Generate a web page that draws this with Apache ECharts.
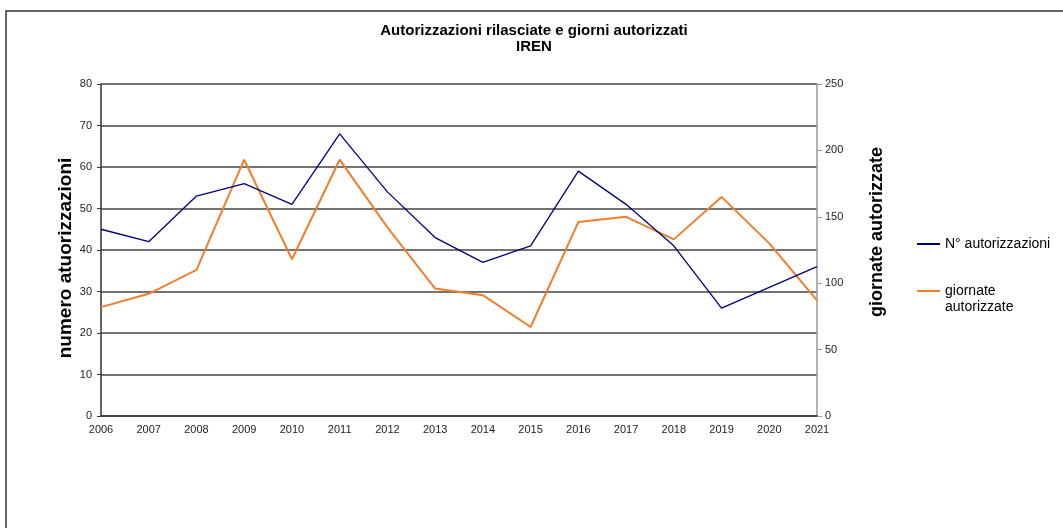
<!DOCTYPE html>
<html>
<head>
<meta charset="utf-8">
<style>
  html, body { margin: 0; padding: 0; background: #fff; }
  #chart { width: 1063px; height: 528px; }
</style>
<script src="https://cdn.jsdelivr.net/npm/echarts@6/dist/echarts.min.js"></script>
</head>
<body>
<div id="chart"></div>
<script>
// Years on the category axis
const years = ['2006','2007','2008','2009','2010','2011','2012','2013','2014','2015','2016','2017','2018','2019','2020','2021'];
// Number of authorizations granted (left axis)
const numAutorizzazioni = [45, 42, 53, 56, 51, 68, 54, 43, 37, 41, 59, 51, 41, 26, 31, 36];
// Authorized days (right axis)
const giornateAutorizzate = [82, 92, 110, 193, 118, 193, 142, 96, 91, 67, 146, 150, 133, 165, 130, 87];

const FONT = '"Liberation Sans", Arial, sans-serif';
const chart = echarts.init(document.getElementById('chart'), null, { renderer: 'canvas' });

chart.setOption({
  backgroundColor: '#fff',
  animation: false,
  textStyle: { fontFamily: FONT },
  title: {
    text: 'Autorizzazioni rilasciate e giorni autorizzati\nIREN',
    left: 529,
    textAlign: 'center',
    top: 18,
    textStyle: { fontFamily: FONT, fontSize: 15, fontWeight: 'bold', color: '#000', lineHeight: 16 }
  },
  graphic: [{
    type: 'rect',
    shape: { x: 6, y: 11, width: 1200, height: 700 },
    style: { fill: 'none', stroke: '#333', lineWidth: 1.5 },
    silent: true
  }],
  legend: {
    orient: 'vertical',
    left: 912,
    top: 231,
    itemGap: 15,
    itemWidth: 23,
    itemHeight: 2,
    itemTextGap: 4,
    icon: 'rect',
    textStyle: { fontFamily: FONT, fontSize: 14, color: '#000', lineHeight: 16 },
    // the second entry wraps on two lines, with its key aligned to the first line
    formatter: function (name) {
      return name === 'giornate autorizzate' ? '\ngiornate\nautorizzate' : name;
    },
    data: ['N° autorizzazioni', 'giornate autorizzate']
  },
  grid: { left: 101, right: 246, top: 84, bottom: 112 },
  xAxis: {
    type: 'category',
    data: years,
    boundaryGap: false,
    axisLine: { show: true, lineStyle: { color: '#333', width: 1.5 } },
    axisTick: { show: false },
    axisLabel: { color: '#222', fontSize: 11, margin: 8, interval: 0 },
    splitLine: { show: false }
  },
  yAxis: [{
    type: 'value',
    min: 0, max: 80, interval: 10,
    position: 'left',
    name: 'numero atuorizzazioni',
    nameLocation: 'middle',
    nameRotate: 90,
    nameGap: 26,
    nameMoveOverlap: false,
    nameTextStyle: { fontFamily: FONT, fontSize: 19, fontWeight: 'bold', color: '#000', padding: [0, 16, 0, 0] },
    axisLine: { show: true, lineStyle: { color: '#333', width: 1.5 } },
    axisTick: { show: true, inside: false, length: 4, lineStyle: { color: '#333' } },
    axisLabel: { color: '#222', fontSize: 11, margin: 9 },
    splitLine: { show: true, lineStyle: { color: '#444', width: 1.5 } }
  }, {
    type: 'value',
    min: 0, max: 250, interval: 50,
    position: 'right',
    name: 'giornate autorizzate',
    nameLocation: 'middle',
    nameRotate: 90,
    nameGap: 51,
    nameTextStyle: { fontFamily: FONT, fontSize: 18, fontWeight: 'bold', color: '#000', padding: [0, 0, 0, 36] },
    axisLine: { show: true, lineStyle: { color: '#999', width: 1.5 } },
    axisTick: { show: true, inside: false, length: 5, lineStyle: { color: '#999' } },
    axisLabel: { color: '#222', fontSize: 11, margin: 8 },
    splitLine: { show: false }
  }],
  series: [{
    name: 'N° autorizzazioni',
    type: 'line',
    yAxisIndex: 0,
    data: numAutorizzazioni,
    symbol: 'none',
    lineStyle: { color: '#000080', width: 1.3 },
    itemStyle: { color: '#000080' },
    z: 3
  }, {
    name: 'giornate autorizzate',
    type: 'line',
    yAxisIndex: 1,
    data: giornateAutorizzate,
    symbol: 'none',
    lineStyle: { color: '#F07E2C', width: 2 },
    itemStyle: { color: '#F07E2C' },
    z: 2
  }]
});
</script>
</body>
</html>
